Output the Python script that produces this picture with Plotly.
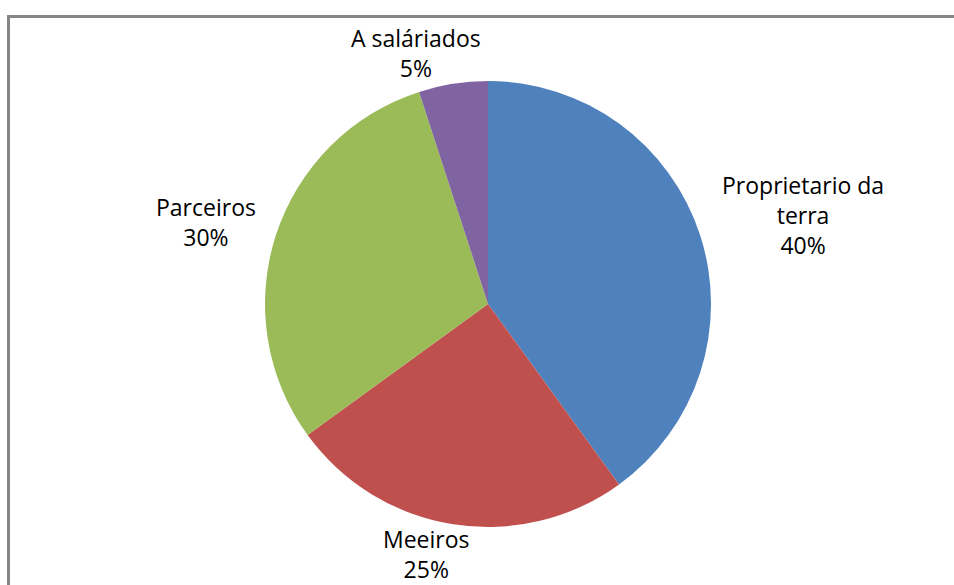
import math
import plotly.graph_objects as go

labels = ["Proprietario da<br>terra", "Meeiros", "Parceiros", "A saláriados"]
values = [40, 25, 30, 5]
colors = ["#4F81BD", "#C0504D", "#9BBB59", "#8064A2"]

W, H = 954, 585
CX, CY, R = 488, 304, 223
# label pixel shifts from the slice edge midpoint (style/layout)
label_shift = [(103, -20), (-27, 30), (-70, -13), (-37, -31)]

fig = go.Figure(go.Pie(
    labels=labels, values=values, sort=False, direction="clockwise", rotation=0,
    marker=dict(colors=colors, line=dict(width=0)),
    textinfo="none", hoverinfo="label+percent", showlegend=False,
    domain=dict(x=[(CX - R) / W, (CX + R) / W], y=[1 - (CY + R) / H, 1 - (CY - R) / H]),
))

total = sum(values)
cum = 0
annotations = []
for lab, v, (dx, dy) in zip(labels, values, label_shift):
    mid = (cum + v / 2) / total * 2 * math.pi
    cum += v
    px = CX + R * math.sin(mid) + dx
    py = CY - R * math.cos(mid) + dy
    pct = round(v / total * 100)
    annotations.append(dict(
        x=px / W, y=1 - py / H, xref="paper", yref="paper",
        text=f"{lab}<br>{pct}%", showarrow=False, xanchor="center", yanchor="middle",
        align="center", font=dict(family="Open Sans", size=23, color="#000000"),
    ))

shapes = [
    dict(type="line", xref="paper", yref="paper", x0=8.5 / W, x1=8.5 / W, y0=0, y1=1 - 15 / H,
         line=dict(color="#868686", width=3)),
    dict(type="line", xref="paper", yref="paper", x0=7 / W, x1=1, y0=1 - 16.5 / H, y1=1 - 16.5 / H,
         line=dict(color="#868686", width=3)),
]

fig.update_layout(
    width=W, height=H, margin=dict(l=0, r=0, t=0, b=0),
    paper_bgcolor="white", plot_bgcolor="white",
    annotations=annotations, shapes=shapes,
)
fig.write_html("out.html", config={"displayModeBar": False},
               post_script="document.body.style.margin='0';document.body.style.overflow='hidden';")
